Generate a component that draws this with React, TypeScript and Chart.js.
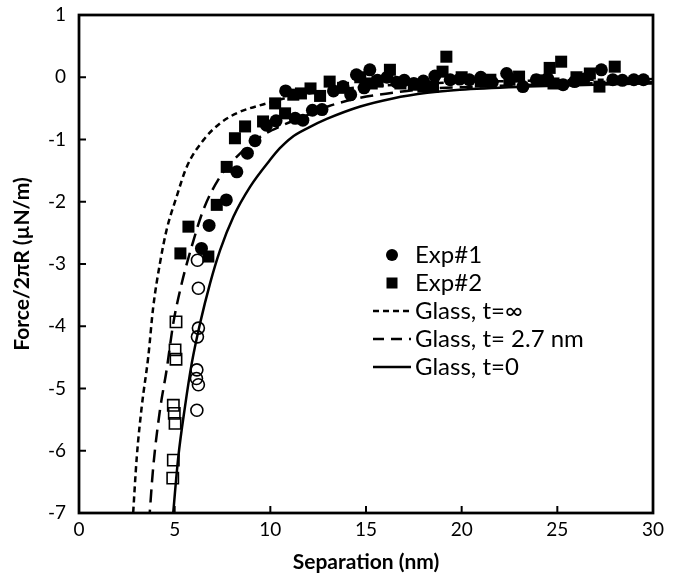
import React, { useEffect, useRef } from 'react';
import { Chart, registerables } from 'chart.js';

Chart.register(...registerables);

// ---- Data (separation in nm, force/2πR in µN/m) ----
const exp1X = [6.4, 6.8, 7.7, 8.25, 8.8, 9.2, 9.8, 10.3, 10.8, 11.3, 11.7, 12.2, 12.7, 13.3, 13.8, 14.2, 14.5, 14.9, 15.2, 15.6, 16.1, 16.6, 17.0, 17.5, 18.0, 18.6, 19.4, 19.9, 20.4, 21.0, 21.6, 22.35, 23.2, 23.9, 24.5, 25.3, 25.9, 26.4, 27.3, 27.9, 28.4, 29.0, 29.5];
const exp1Y = [-2.75, -2.38, -1.97, -1.52, -1.22, -1.02, -0.77, -0.7, -0.22, -0.66, -0.69, -0.53, -0.52, -0.22, -0.15, -0.28, 0.04, -0.17, 0.12, -0.05, 0.0, -0.08, -0.05, -0.1, -0.06, 0.02, -0.04, -0.03, -0.04, 0.0, -0.08, 0.06, -0.15, -0.04, -0.02, -0.12, -0.07, -0.03, 0.12, -0.04, -0.05, -0.04, -0.04];

const exp2X = [5.3, 5.72, 6.76, 7.2, 7.72, 8.15, 8.68, 9.62, 10.25, 10.77, 11.2, 11.6, 12.1, 12.6, 13.1, 13.8, 14.7, 15.3, 15.6, 16.25, 16.8, 17.5, 18.0, 18.5, 19.0, 19.2, 20.0, 21.0, 21.5, 22.5, 23.0, 24.0, 24.6, 24.8, 25.2, 26.0, 26.7, 27.2, 28.0];
const exp2Y = [-2.83, -2.4, -2.88, -2.05, -1.44, -0.98, -0.79, -0.71, -0.42, -0.58, -0.28, -0.26, -0.18, -0.3, -0.07, -0.17, 0.0, -0.1, -0.07, 0.12, -0.1, -0.12, -0.15, -0.15, 0.09, 0.33, 0.0, -0.07, -0.04, -0.04, 0.01, -0.05, 0.15, -0.1, 0.25, 0.0, 0.06, -0.15, 0.17];

const exp1JumpX = [6.19, 6.24, 6.24, 6.19, 6.16, 6.14, 6.24, 6.16];
const exp1JumpY = [-2.94, -3.39, -4.03, -4.17, -4.7, -4.84, -4.94, -5.35];

const exp2JumpX = [5.07, 5.02, 5.07, 4.93, 4.98, 5.02, 4.93, 4.9];
const exp2JumpY = [-3.93, -4.38, -4.53, -5.27, -5.4, -5.56, -6.15, -6.44];

const glassInfX = [2.8, 3.02, 3.28, 3.62, 3.88, 4.23, 4.58, 5.1, 5.63, 6.5, 7.37, 8.3, 9.81, 11, 12, 13.5, 15, 17.5, 20, 25, 30];
const glassInfY = [-7.15, -6.1, -5.29, -4.49, -3.69, -2.99, -2.45, -1.92, -1.44, -1.01, -0.74, -0.57, -0.42, -0.32, -0.26, -0.2, -0.15, -0.11, -0.08, -0.05, -0.03];

const glass27X = [3.66, 3.88, 4.23, 4.58, 4.93, 5.37, 5.89, 6.5, 7.37, 8.24, 9.46, 10.66, 12, 13, 14.7, 16.4, 18, 20, 25, 30];
const glass27Y = [-7.15, -6.26, -5.35, -4.7, -3.95, -3.31, -2.72, -2.13, -1.6, -1.28, -0.96, -0.77, -0.6, -0.47, -0.33, -0.25, -0.19, -0.16, -0.11, -0.08];

const glass0X = [4.88, 5.19, 5.54, 5.89, 6.33, 6.85, 7.37, 8.07, 8.94, 9.98, 10.5, 11.1, 12, 12.95, 14.7, 16.4, 18.2, 19.9, 23.4, 26.9, 30];
const glass0Y = [-7.15, -6.1, -5.29, -4.6, -3.95, -3.31, -2.78, -2.24, -1.76, -1.33, -1.14, -0.97, -0.81, -0.67, -0.47, -0.34, -0.25, -0.2, -0.15, -0.12, -0.1];

const xTicks = [0, 5, 10, 15, 20, 25, 30];
const yTicks = [1, 0, -1, -2, -3, -4, -5, -6, -7];

const legendLabels = ['Exp#1', 'Exp#2', 'Glass, t=\u221E', 'Glass, t= 2.7 nm', 'Glass, t=0'];

const xTitle = 'Separation (nm)';
const yTitle = 'Force/2\u03C0R (\u00B5N/m)';

const FONT = 'Lato, "Open Sans", sans-serif';

function pts(xs: number[], ys: number[]) {
  return xs.map((x, i) => ({ x, y: ys[i] }));
}

const SHORT_DASH = [6, 4];
const LONG_DASH = [13, 7];

const framePlugin = {
  id: 'frameAndLegend',
  afterDatasetsDraw(chart: any) {
    const { ctx, chartArea: a, scales } = chart;
    const xs = scales.x;
    const ys = scales.y;
    ctx.save();
    ctx.strokeStyle = '#000';
    ctx.lineWidth = 2.75;
    ctx.setLineDash([]);
    ctx.strokeRect(a.left, a.top, a.right - a.left, a.bottom - a.top);
    ctx.lineWidth = 2;
    xTicks.forEach((v) => {
      const px = xs.getPixelForValue(v);
      ctx.beginPath();
      ctx.moveTo(px, a.bottom);
      ctx.lineTo(px, a.bottom - 7);
      ctx.stroke();
    });
    yTicks.forEach((v) => {
      const py = ys.getPixelForValue(v);
      ctx.beginPath();
      ctx.moveTo(a.left, py);
      ctx.lineTo(a.left + 7, py);
      ctx.stroke();
    });

    // Legend
    const lx0 = 373;
    const lx1 = 411;
    const mx = 392;
    const tx = 415;
    const rowY = [255, 283, 311, 339, 367];
    ctx.fillStyle = '#000';
    ctx.beginPath();
    ctx.arc(mx, rowY[0], 6, 0, Math.PI * 2);
    ctx.fill();
    ctx.fillRect(mx - 5.5, rowY[1] - 5.5, 11, 11);
    ctx.lineWidth = 2.5;
    ctx.lineCap = 'butt';
    const drawSample = (y: number, dash: number[]) => {
      ctx.setLineDash(dash);
      ctx.beginPath();
      ctx.moveTo(lx0, y);
      ctx.lineTo(lx1, y);
      ctx.stroke();
    };
    drawSample(rowY[2], SHORT_DASH);
    drawSample(rowY[3], [11, 7]);
    drawSample(rowY[4], []);
    ctx.setLineDash([]);
    ctx.font = '24px ' + FONT;
    ctx.textBaseline = 'middle';
    ctx.textAlign = 'left';
    legendLabels.forEach((t, i) => ctx.fillText(t, tx, rowY[i]));
    ctx.restore();
  },
};

export default function App() {
  const ref = useRef<HTMLCanvasElement | null>(null);

  useEffect(() => {
    document.body.style.margin = '0';
    const canvas = ref.current;
    if (!canvas) return;
    const lineBase = {
      showLine: true,
      pointRadius: 0,
      borderColor: '#000',
      backgroundColor: '#000',
      borderWidth: 2.5,
      fill: false,
      cubicInterpolationMode: 'monotone' as const,
    };
    const chart = new Chart(canvas, {
      type: 'scatter',
      data: {
        datasets: [
          {
            label: 'Exp#1',
            data: pts(exp1X, exp1Y),
            pointStyle: 'circle',
            pointRadius: 6.5,
            backgroundColor: '#000',
            borderColor: '#000',
            borderWidth: 0,
          },
          {
            label: 'Exp#2',
            data: pts(exp2X, exp2Y),
            pointStyle: 'rect',
            pointRadius: 8.5,
            backgroundColor: '#000',
            borderColor: '#000',
            borderWidth: 0,
          },
          {
            label: 'Exp#1 jump',
            data: pts(exp1JumpX, exp1JumpY),
            pointStyle: 'circle',
            pointRadius: 6,
            backgroundColor: 'rgba(255,255,255,0)',
            borderColor: '#000',
            borderWidth: 1.6,
          },
          {
            label: 'Exp#2 jump',
            data: pts(exp2JumpX, exp2JumpY),
            pointStyle: 'rect',
            pointRadius: 8,
            backgroundColor: 'rgba(255,255,255,0)',
            borderColor: '#000',
            borderWidth: 1.6,
          },
          { label: 'Glass, t=\u221E', data: pts(glassInfX, glassInfY), borderDash: SHORT_DASH, ...lineBase },
          { label: 'Glass, t= 2.7 nm', data: pts(glass27X, glass27Y), borderDash: LONG_DASH, ...lineBase },
          { label: 'Glass, t=0', data: pts(glass0X, glass0Y), ...lineBase },
        ] as any,
      },
      options: {
        responsive: false,
        animation: false,
        events: [],
        layout: { padding: { top: 15, right: 24, left: 0, bottom: 0 } },
        plugins: {
          legend: { display: false },
          tooltip: { enabled: false },
        },
        scales: {
          x: {
            type: 'linear',
            min: 0,
            max: 30,
            grid: { display: false, drawTicks: false },
            border: { display: false },
            ticks: {
              stepSize: 5,
              color: '#000',
              padding: 5,
              font: { family: FONT, size: 19 },
            },
            title: {
              display: true,
              text: xTitle,
              color: '#000',
              font: { family: FONT, size: 21, weight: 'bold' },
              padding: { top: 0, bottom: 1.5 },
            },
            afterFit: (s: any) => {
              s.height = 63;
              s.paddingLeft = 0;
              s.paddingRight = 0;
            },
          },
          y: {
            type: 'linear',
            min: -7,
            max: 1,
            grid: { display: false, drawTicks: false },
            border: { display: false },
            ticks: {
              stepSize: 1,
              color: '#000',
              padding: 13,
              font: { family: FONT, size: 19 },
            },
            title: {
              display: true,
              text: yTitle,
              color: '#000',
              font: { family: FONT, size: 21, weight: 'bold' },
              padding: { top: 9.5, bottom: 0 },
            },
            afterFit: (s: any) => {
              s.width = 79;
              s.paddingTop = 0;
              s.paddingBottom = 0;
            },
          },
        },
      },
      plugins: [framePlugin],
    });
    return () => chart.destroy();
  }, []);

  return (
    <div style={{ position: 'absolute', left: 0, top: 0, width: 677, height: 576, background: '#fff' }}>
      <canvas ref={ref} width={677} height={576} style={{ display: 'block', width: 677, height: 576 }} />
    </div>
  );
}
